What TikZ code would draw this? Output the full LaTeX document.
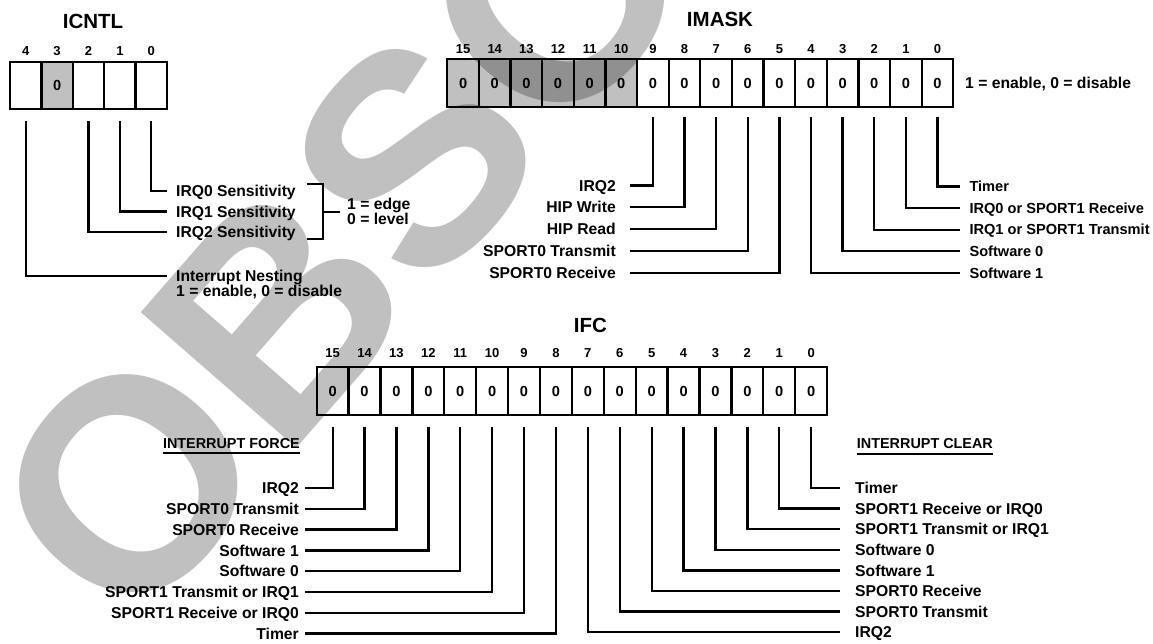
\documentclass[tikz,border=0pt]{standalone}
\usepackage{fontspec}
\setmainfont{Liberation Sans}
\definecolor{shade}{RGB}{192,192,192}
\definecolor{wmark}{RGB}{192,192,192}
\tikzset{
  lbl/.style={font=\fontsize{15.7}{18}\selectfont\bfseries, inner sep=0pt, text height=11.2pt, text depth=0pt},
  lbls/.style={font=\fontsize{14.6}{17}\selectfont\bfseries, inner sep=0pt, text height=10.45pt, text depth=0pt},
  smallcap/.style={font=\fontsize{14.4}{17}\selectfont\bfseries, inner sep=0pt, text height=10.3pt, text depth=0pt},
  ttl/.style={font=\fontsize{20.5}{24}\selectfont\bfseries, inner sep=0pt, text height=14.7pt, text depth=0pt},
  bitnum/.style={font=\fontsize{13}{15}\selectfont\bfseries, inner sep=0pt, text height=9.3pt, text depth=0pt},
  cell/.style={draw, line width=2.3pt, inner sep=0pt, outer sep=0pt, font=\fontsize{14.6}{16}\selectfont\bfseries, text height=10.45pt, text depth=0pt},
  conn/.style={line width=2.3pt},
}
\begin{document}
\begin{tikzpicture}[x=1pt,y=-1pt]
\useasboundingbox (0,0) rectangle (1153,644);
% ---------------- ICNTL ----------------
\node[ttl] (icntl) at (93,21) {ICNTL};
\foreach \b [count=\i from 0] in {4,3,2,1,0} {
  \pgfmathsetmacro{\cx}{25.7+\i*31.4}
  \ifnum\b=3
    \node[cell, fill=shade, minimum width=31.4pt, minimum height=47pt] (ic\b) at (\cx,85.5) {0};
  \else
    \node[cell, minimum width=31.4pt, minimum height=47pt] (ic\b) at (\cx,85.5) {};
  \fi
  \node[bitnum] (icn\b) at (\cx,50.5) {\b};
}
\node[lbl, anchor=west] (l0) at (176,191) {IRQ0 Sensitivity};
\node[lbl, anchor=west] (l1) at (176,211.5) {IRQ1 Sensitivity};
\node[lbl, anchor=west] (l2) at (176,232) {IRQ2 Sensitivity};
\node[lbl, anchor=west] (nest1) at (176,276) {Interrupt Nesting};
\node[lbl, anchor=west] (nest2) at (176,290.5) {1 = enable, 0 = disable};
\foreach \b/\l in {0/l0,1/l1,2/l2,4/nest1} {
  \draw[conn] ([yshift=-12pt]ic\b.south) |- ([xshift=-9.3pt]\l.west);
}
% bracket
\coordinate (bt) at (306.7,184);
\coordinate (bb) at (306.7,239.3);
\coordinate (bm) at (323.3,211.7);
\draw[conn] (bt) -- ++(16.6,0) |- (bb);
\node[lbl, anchor=west] (edge1) at (347,204) {1 = edge};
\node[lbl, anchor=west] (edge0) at (347,219) {0 = level};
\draw[conn] (bm) -- ++(16.7,0);
% ---------------- IMASK ----------------
\node[ttl] (imask) at (720,19) {IMASK};
\foreach \b [count=\i from 0] in {15,14,...,0} {
  \pgfmathsetmacro{\cx}{447.3+15.8125+\i*31.625}
  \ifnum\b>9
    \node[cell, fill=shade, minimum width=31.625pt, minimum height=48pt] (m\b) at (\cx,83) {0};
  \else
    \node[cell, minimum width=31.625pt, minimum height=48pt] (m\b) at (\cx,83) {0};
  \fi
  \node[bitnum] (mn\b) at (\cx,49.3) {\b};
}
\node[lbl, anchor=west] (men) at (965,83) {1 = enable, 0 = disable};
\foreach \b/\t [count=\k from 0] in {9/IRQ2, 8/HIP Write, 7/HIP Read, 6/SPORT0 Transmit, 5/SPORT0 Receive} {
  \node[lbl, anchor=east] (mL\b) at (616,185.5+21.8*\k) {\t};
  \draw[conn] ([yshift=-10pt]m\b.south) |- ([xshift=14pt]mL\b.east);
}
\foreach \b/\t [count=\k from 0] in {0/Timer, 1/IRQ0 or SPORT1 Receive, 2/IRQ1 or SPORT1 Transmit, 3/Software 0, 4/Software 1} {
  \node[lbls, anchor=west] (mR\b) at (969.3,186.5+21.6*\k) {\t};
  \draw[conn] ([yshift=-10pt]m\b.south) |- ([xshift=-9.3pt]mR\b.west);
}
% ---------------- IFC ----------------
\node[ttl] (ifc) at (590.5,325) {IFC};
\foreach \b [count=\i from 0] in {15,14,...,0} {
  \pgfmathsetmacro{\cx}{316.7+15.95+\i*31.9}
  \node[cell, minimum width=31.9pt, minimum height=48.3pt] (f\b) at (\cx,390.85) {0};
  \node[bitnum] (fn\b) at (\cx,353) {\b};
}
\node[smallcap, anchor=east] (force) at (300,443) {INTERRUPT FORCE};
\draw[conn] ([yshift=-4.5pt]force.south west) -- ([yshift=-4.5pt]force.south east);
\node[smallcap, anchor=west] (clear) at (856.7,443) {INTERRUPT CLEAR};
\draw[conn] ([yshift=-5.5pt]clear.south west) -- ([yshift=-5.5pt]clear.south east);
\foreach \b/\t [count=\k from 0] in {15/IRQ2, 14/SPORT0 Transmit, 13/SPORT0 Receive, 12/Software 1, 11/Software 0, 10/SPORT1 Transmit or IRQ1, 9/SPORT1 Receive or IRQ0, 8/Timer} {
  \node[lbl, anchor=east] (fL\b) at (299,488+20.8*\k) {\t};
  \draw[conn] ([yshift=-11.7pt]f\b.south) |- ([xshift=6pt]fL\b.east);
}
\foreach \b/\t [count=\k from 0] in {0/Timer, 1/SPORT1 Receive or IRQ0, 2/SPORT1 Transmit or IRQ1, 3/Software 0, 4/Software 1, 5/SPORT0 Receive, 6/SPORT0 Transmit, 7/IRQ2} {
  \node[lbl, anchor=west] (fR\b) at (855,488+20.6*\k) {\t};
  \draw[conn] ([yshift=-11.7pt]f\b.south) |- ([xshift=-15pt]fR\b.west);
}
% ---------------- watermark ----------------
\begin{scope}[blend mode=multiply]
  \clip (0,0) rectangle (1153,644);
  \node[font=\fontsize{300}{300}\selectfont\bfseries, text=wmark, inner sep=0pt, anchor=base west, rotate=48.9] (wm) at (130.2,639.6) {OBSOLETE};
\end{scope}
\end{tikzpicture}
\end{document}
